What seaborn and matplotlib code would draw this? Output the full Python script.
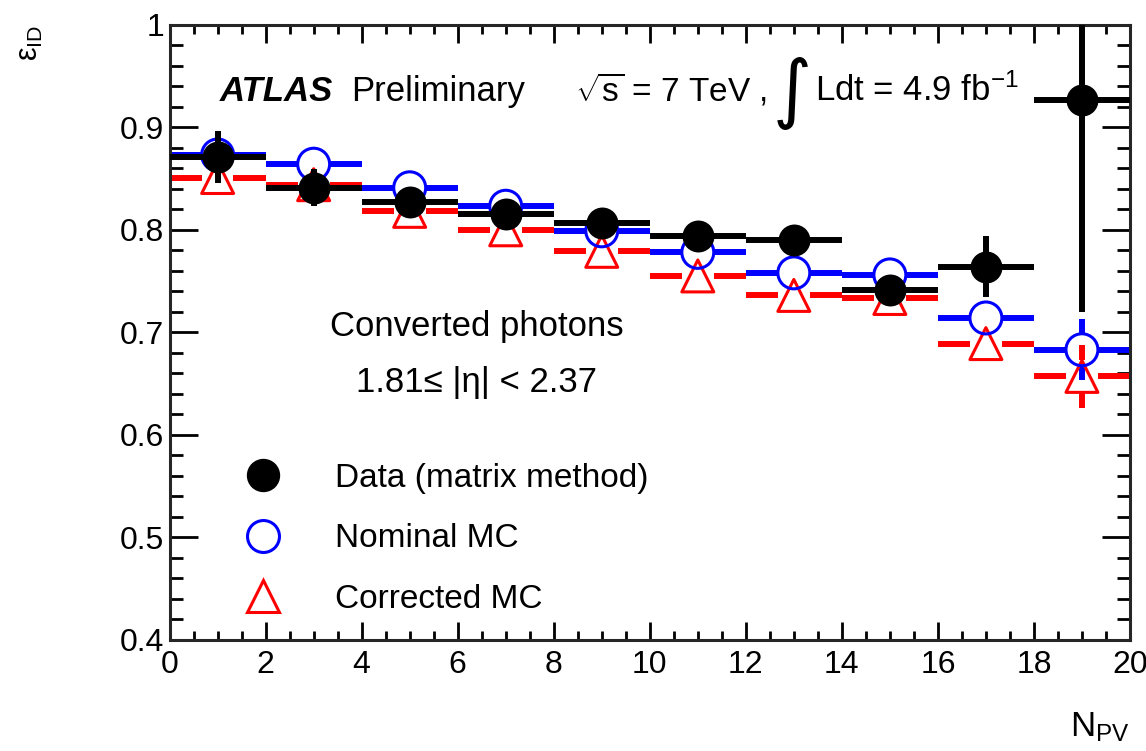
import numpy as np
import pandas as pd
import seaborn as sns
import matplotlib.pyplot as plt
from matplotlib.lines import Line2D
from matplotlib.ticker import MultipleLocator

# bin centres in N_PV (bins of width 2)
n_pv = [1, 3, 5, 7, 9, 11, 13, 15, 17, 19]
bin_half_width = 1.0

# efficiencies
data_eff = [0.871, 0.841, 0.827, 0.815, 0.807, 0.794, 0.790, 0.741, 0.764, 0.927]
data_err = [0.025, 0.018, 0.010, 0.010, 0.010, 0.010, 0.010, 0.010, 0.030, 0.207]
nominal_eff = [0.873, 0.864, 0.841, 0.823, 0.799, 0.778, 0.758, 0.756, 0.714, 0.683]
nominal_err = [0.004, 0.004, 0.004, 0.004, 0.005, 0.005, 0.006, 0.007, 0.013, 0.030]
corrected_eff = [0.851, 0.844, 0.818, 0.800, 0.779, 0.755, 0.736, 0.733, 0.689, 0.657]
corrected_err = [0.004, 0.004, 0.004, 0.004, 0.005, 0.005, 0.006, 0.007, 0.012, 0.031]

labels = ['Data (matrix method)', 'Nominal MC', 'Corrected MC']

sns.set_style('ticks')
plt.rcParams['font.family'] = ['Liberation Sans', 'DejaVu Sans']
plt.rcParams['mathtext.fontset'] = 'custom'
plt.rcParams['mathtext.rm'] = 'Liberation Sans'
plt.rcParams['mathtext.it'] = 'Liberation Sans:italic'
plt.rcParams['mathtext.bf'] = 'Liberation Sans:bold'
for k in ['text.color', 'axes.labelcolor', 'xtick.color', 'ytick.color']:
    plt.rcParams[k] = 'black'

fig = plt.figure(figsize=(11.46, 7.51), dpi=100)
ax = fig.add_axes([0.148, 0.148, 0.838, 0.819])

bar_lw = 4.3
ms = 23  # marker size in points
r_x = 0.33    # marker radius in x data units (for the gaps in open markers)
r_y = 0.0156  # marker radius in y data units


def draw_open(x, y, err, color):
    x = np.array(x, dtype=float)
    y = np.array(y, dtype=float)
    err = np.array(err, dtype=float)
    # horizontal bars broken at the hollow marker
    ax.hlines(y, x - bin_half_width, x - r_x, color=color, lw=bar_lw, zorder=2)
    ax.hlines(y, x + r_x, x + bin_half_width, color=color, lw=bar_lw, zorder=2)
    big = err > r_y
    ax.vlines(x[big], y[big] + r_y, y[big] + err[big], color=color, lw=bar_lw, zorder=2)
    ax.vlines(x[big], y[big] - err[big], y[big] - r_y, color=color, lw=bar_lw, zorder=2)


df = pd.DataFrame({'n_pv': n_pv, 'data': data_eff, 'nominal': nominal_eff,
                   'corrected': corrected_eff})

# corrected MC (red open triangles)
draw_open(n_pv, corrected_eff, corrected_err, 'red')
sns.scatterplot(data=df, x='n_pv', y='corrected', marker='^', s=ms ** 2,
                facecolor='none', edgecolor='red', linewidth=2.2, ax=ax, zorder=3)

# nominal MC (blue open circles)
draw_open(n_pv, nominal_eff, nominal_err, 'blue')
sns.scatterplot(data=df, x='n_pv', y='nominal', marker='o', s=ms ** 2,
                facecolor='none', edgecolor='blue', linewidth=2.2, ax=ax, zorder=4)

# data (black filled circles)
ax.errorbar(n_pv, data_eff, xerr=bin_half_width, yerr=data_err, fmt='none',
            ecolor='black', elinewidth=bar_lw, capsize=0, zorder=5)
sns.scatterplot(data=df, x='n_pv', y='data', marker='o', s=ms ** 2,
                color='black', edgecolor='black', linewidth=0, ax=ax, zorder=6)

ax.set_xlim(0, 20)
ax.set_ylim(0.4, 1.0)
ax.xaxis.set_major_locator(MultipleLocator(2))
ax.xaxis.set_minor_locator(MultipleLocator(0.5))
ax.yaxis.set_minor_locator(MultipleLocator(0.02))
ax.set_yticks(np.round(np.arange(0.4, 1.01, 0.1), 1))
ax.set_yticklabels(['0.4', '0.5', '0.6', '0.7', '0.8', '0.9', '1'])

for s in ax.spines.values():
    s.set_linewidth(2.2)
    s.set_visible(True)
ax.tick_params(axis='both', which='both', direction='in', top=True, right=True,
               width=2.0, labelsize=23, colors='black')
ax.tick_params(axis='x', which='major', length=13, pad=7)
ax.tick_params(axis='x', which='minor', length=6.5)
ax.tick_params(axis='y', which='major', length=20, pad=4)
ax.tick_params(axis='y', which='minor', length=9.5)

ax.set_xlabel(r'N$_{\rm PV}$', fontsize=25, loc='right', labelpad=22)
ax.set_ylabel(r'ε$_{\rm ID}$', fontsize=22, loc='top')
ax.yaxis.set_label_coords(-0.13, 1.0)

# annotations
ax.text(1.04, 0.926, 'ATLAS', fontsize=25, fontweight='bold', fontstyle='italic',
        va='baseline')
ax.text(3.79, 0.926, 'Preliminary', fontsize=25, va='baseline')
ax.text(8.44, 0.926, r'$\sqrt{\mathrm{s}}$ = 7 TeV ,', fontsize=24, va='baseline')
ax.text(12.57, 0.933, '∫', fontsize=54, family='DejaVu Sans', va='center')
ax.text(13.44, 0.926, r'Ldt = 4.9 fb$^{-1}$', fontsize=25, va='baseline')
ax.text(6.4, 0.696, 'Converted photons', fontsize=25, ha='center', va='baseline')
ax.text(6.4, 0.642, '1.81≤ |η| < 2.37', fontsize=25, ha='center', va='baseline')

handles = [
    Line2D([], [], ls='none', marker='o', ms=ms, color='black'),
    Line2D([], [], ls='none', marker='o', ms=ms, mfc='none', mec='blue', mew=2.2),
    Line2D([], [], ls='none', marker='^', ms=ms, mfc='none', mec='red', mew=2.2),
]
ax.legend(handles, labels, loc='upper left', bbox_to_anchor=(0.0625, 0.288),
          frameon=False, fontsize=24, handlelength=2, handletextpad=1.15,
          labelspacing=0.89, borderpad=0, borderaxespad=0)

fig.savefig('out.png', dpi=100)
